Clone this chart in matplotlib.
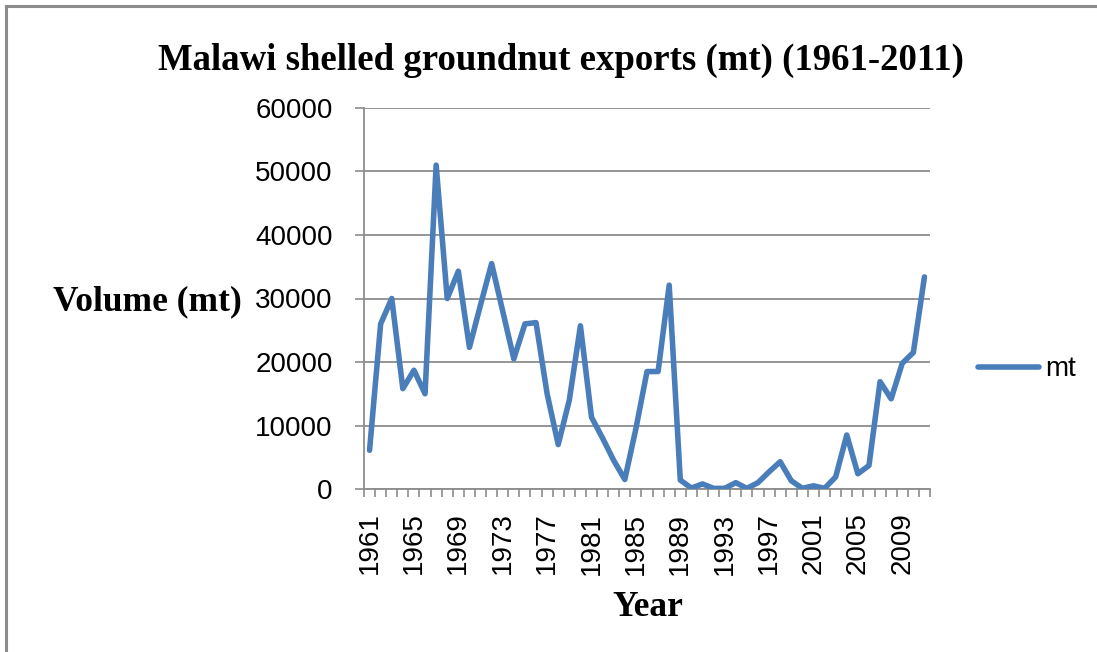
import matplotlib
matplotlib.use("Agg")
import matplotlib.pyplot as plt
from matplotlib.lines import Line2D

# Malawi shelled groundnut exports, metric tonnes
years = list(range(1961, 2012))
volume_mt = [
    6100, 26000, 30000, 15800, 18700, 15000, 51000, 30000, 34300, 22300,
    29000, 35500, 28000, 20500, 26000, 26200, 15000, 7000, 14000, 25700,
    11300, 8000, 4500, 1500, 9500, 18500, 18500, 32100, 1400, 150,
    800, 100, 100, 1000, 100, 1000, 2700, 4300, 1300, 100,
    500, 100, 1900, 8500, 2400, 3700, 16900, 14200, 19800, 21500,
    33400,
]
y_ticks = [0, 10000, 20000, 30000, 40000, 50000, 60000]
series_name = "mt"
title = "Malawi shelled groundnut exports (mt) (1961-2011)"

W, H = 1097, 652
fig = plt.figure(figsize=(W / 100, H / 100), dpi=100)
fig.patch.set_facecolor("white")

# frame lines along the top and left edge
frame_c = "#8c8c8c"
fig.add_artist(Line2D([6 / W, 6 / W], [0, 1 - 6 / H], color=frame_c, lw=2.2))
fig.add_artist(Line2D([6 / W, 1], [1 - 6 / H, 1 - 6 / H], color=frame_c, lw=2.2))

left, right, top, bottom = 364 / W, 930 / W, 1 - 108 / H, 1 - 489 / H
ax = fig.add_axes([left, bottom, right - left, top - bottom])

x = list(range(len(years)))
line_color = "#4a7ebb"
ax.plot(x, volume_mt, color=line_color, lw=4.0, solid_joinstyle="round",
        solid_capstyle="round", label=series_name, zorder=3)

sans = "Liberation Sans"
serif = "Liberation Serif"
tick_fs = 20

ax.set_xlim(-0.5, len(years) - 0.5)
ax.set_ylim(0, 60000)
ax.set_yticks(y_ticks)
ax.set_yticklabels([str(v) for v in y_ticks], fontsize=tick_fs, family=sans)
ax.grid(axis="y", color=frame_c, lw=1.3, zorder=0)
ax.set_axisbelow(True)

label_idx = list(range(0, len(years), 4))
ax.set_xticks(label_idx)
ax.set_xticklabels([str(years[i]) for i in label_idx], rotation=90,
                   fontsize=tick_fs, family=sans)
ax.tick_params(axis="x", which="major", length=0, pad=17)
ax.set_xticks([i - 0.5 for i in range(len(years) + 1)], minor=True)
ax.tick_params(axis="x", which="minor", length=6, color=frame_c, width=1.2,
               direction="out")
ax.tick_params(axis="y", which="major", length=6.5, color=frame_c, width=1.2,
               direction="out", pad=16)

for s in ["top", "right"]:
    ax.spines[s].set_visible(False)
for s in ["left", "bottom"]:
    ax.spines[s].set_color(frame_c)
    ax.spines[s].set_linewidth(1.3)

fig.text(561 / W, 1 - 60 / H, title, ha="center", va="center",
         fontsize=26.5, fontweight="bold", family=serif)
fig.text(147 / W, 1 - 302 / H, "Volume (mt)", ha="center", va="center",
         fontsize=25.5, fontweight="bold", family=serif)
fig.text(648 / W, 1 - 608 / H, "Year", ha="center", va="center",
         fontsize=25.5, fontweight="bold", family=serif)

# legend entry to the right of the plot
fig.add_artist(Line2D([978 / W, 1039 / W], [1 - 367 / H, 1 - 367 / H],
                      color=line_color, lw=4.0, solid_capstyle="round"))
fig.text(1045 / W, 1 - 369 / H, series_name, ha="left", va="center",
         fontsize=tick_fs, family=sans)

fig.savefig("out.png", dpi=100, facecolor="white")
